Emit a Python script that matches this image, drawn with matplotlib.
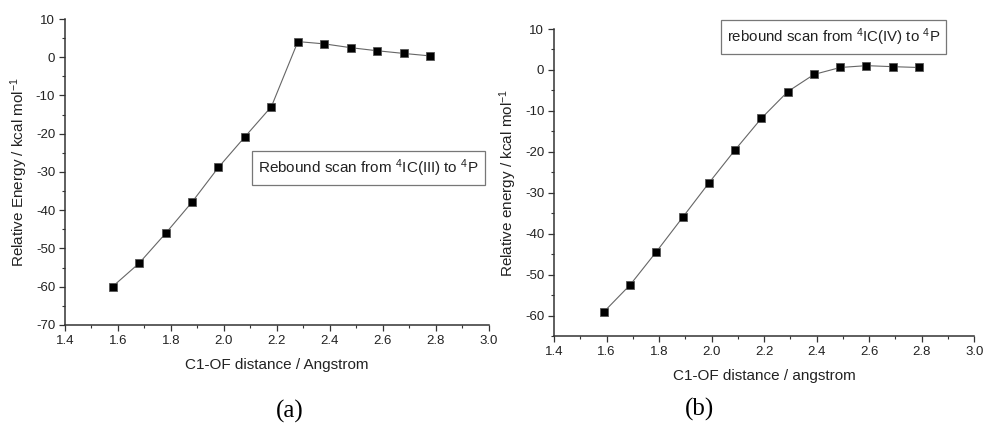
import matplotlib
matplotlib.use("Agg")
import matplotlib.pyplot as plt
from matplotlib.ticker import MultipleLocator, FormatStrFormatter

plt.rcParams['font.family'] = ['Liberation Sans', 'DejaVu Sans']
plt.rcParams['mathtext.fontset'] = 'custom'
plt.rcParams['mathtext.rm'] = 'Liberation Sans'
plt.rcParams['mathtext.it'] = 'Liberation Sans:italic'
plt.rcParams['axes.unicode_minus'] = False

# Panel (a)
dist_a = [1.58, 1.68, 1.78, 1.88, 1.98, 2.08, 2.18, 2.28, 2.38, 2.48, 2.58, 2.68, 2.78]
energy_a = [-60.0, -53.9, -46.1, -37.9, -28.8, -20.8, -12.9, 4.1, 3.5, 2.5, 1.7, 1.0, 0.35]
# Panel (b)
dist_b = [1.59, 1.69, 1.79, 1.89, 1.99, 2.09, 2.19, 2.29, 2.39, 2.49, 2.59, 2.69, 2.79]
energy_b = [-59.1, -52.5, -44.4, -36.0, -27.6, -19.5, -11.8, -5.3, -1.1, 0.6, 1.05, 0.8, 0.6]

fig = plt.figure(figsize=(9.83, 4.23), dpi=100)
axa = fig.add_axes([0.066, 0.232, 0.431, 0.723])
axb = fig.add_axes([0.5636, 0.2057, 0.4274, 0.7257])

def style(ax, ylim, ylabel, xlabel):
    ax.set_xlim(1.4, 3.0)
    ax.set_ylim(*ylim)
    ax.xaxis.set_major_locator(MultipleLocator(0.2))
    ax.xaxis.set_minor_locator(MultipleLocator(0.1))
    ax.xaxis.set_major_formatter(FormatStrFormatter('%.1f'))
    ax.yaxis.set_major_locator(MultipleLocator(10))
    ax.yaxis.set_minor_locator(MultipleLocator(5))
    ax.spines['top'].set_visible(False)
    ax.spines['right'].set_visible(False)
    for s in ('left', 'bottom'):
        ax.spines[s].set_linewidth(1.1)
        ax.spines[s].set_color('#333333')
    ax.tick_params(which='major', direction='out', length=4, width=0.9, labelsize=9.5,
                   color='#333333', labelcolor='#222222', pad=3)
    ax.tick_params(which='minor', direction='out', length=2.5, width=0.8, color='#333333')
    ax.set_xlabel(xlabel, fontsize=11, color='#222222', labelpad=8)
    ax.set_ylabel(ylabel, fontsize=11, color='#222222', labelpad=4)

style(axa, (-70, 10), 'Relative Energy / kcal mol$^{-1}$', 'C1-OF distance / Angstrom')
style(axb, (-65, 10), 'Relative energy / kcal mol$^{-1}$', 'C1-OF distance / angstrom')

for ax, x, y in ((axa, dist_a, energy_a), (axb, dist_b, energy_b)):
    ax.plot(x, y, color='#666666', linewidth=0.8, marker='s', markersize=5.5,
            markerfacecolor='black', markeredgecolor='#555555', markeredgewidth=0.6)

box = dict(boxstyle='square,pad=0.4', facecolor='white', edgecolor='#777777', linewidth=0.9)
fig.text(258 / 983, 1 - 168 / 423, 'Rebound scan from $^{4}$IC(III) to $^{4}$P',
         fontsize=11, ha='left', va='center', color='#222222', bbox=box)
fig.text(727 / 983, 1 - 37 / 423, 'rebound scan from $^{4}$IC(IV) to $^{4}$P',
         fontsize=10.8, ha='left', va='center', color='#222222', bbox=box)

fig.text(290 / 983, 1 - 411 / 423, '(a)', family=['Liberation Serif', 'DejaVu Serif'],
         fontsize=18, ha='center', va='center')
fig.text(700 / 983, 1 - 409 / 423, '(b)', family=['Liberation Serif', 'DejaVu Serif'],
         fontsize=18, ha='center', va='center')

fig.savefig('out.png', dpi=100)
